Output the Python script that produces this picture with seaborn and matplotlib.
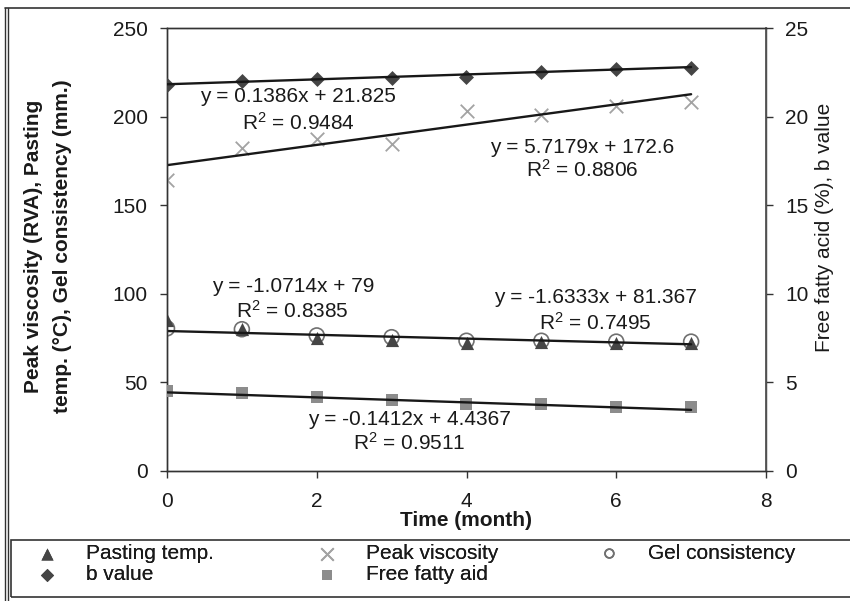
import numpy as np
import pandas as pd
import matplotlib
matplotlib.use("Agg")
import matplotlib.pyplot as plt
import seaborn as sns
from matplotlib.lines import Line2D
from matplotlib.patches import Rectangle

# ---------------- data ----------------
months = [0, 1, 2, 3, 4, 5, 6, 7]
pasting_temp = [85, 80, 75, 74, 72, 73, 72, 72]
peak_viscosity = [164.5, 182.5, 187.5, 184.5, 203, 201, 206, 208]
gel_consistency = [80.5, 80, 76.5, 75.5, 73.5, 73.5, 73, 73]
b_value = [21.8, 22.0, 22.1, 22.2, 22.25, 22.5, 22.7, 22.75]
free_fatty_acid = [4.5, 4.4, 4.2, 4.0, 3.8, 3.8, 3.6, 3.6]

# trendline coefficients: slope, intercept, R^2
trend_b = (0.1386, 21.825, 0.9484)
trend_peak = (5.7179, 172.6, 0.8806)
trend_pasting = (-1.0714, 79, 0.8385)
trend_gel = (-1.6333, 81.367, 0.7495)
trend_ffa = (-0.1412, 4.4367, 0.9511)

legend_labels = ["Pasting temp.", "Peak viscosity", "Gel consistency",
                 "b value", "Free fatty aid"]

# ---------------- style ----------------
sns.set_style("white")
plt.rcParams["font.family"] = ["Liberation Sans", "DejaVu Sans"]
plt.rcParams["mathtext.fontset"] = "custom"
plt.rcParams["mathtext.rm"] = "Liberation Sans"
plt.rcParams["mathtext.it"] = "Liberation Sans"

W, H = 850, 601
fig = plt.figure(figsize=(W / 100, H / 100), dpi=100)
L, R, B, T = 167, 766, 471, 28
ax = fig.add_axes([L / W, 1 - B / H, (R - L) / W, (B - T) / H])
ax2 = ax.twinx()

df = pd.DataFrame({
    "month": months,
    "pasting": pasting_temp,
    "peak": peak_viscosity,
    "gel": gel_consistency,
    "b": b_value,
    "ffa": free_fatty_acid,
})

FS = 15
c_dark = "#454545"
c_ffa = "#8c8c8c"
c_cross = "#a3a3a3"
c_circ = "#707070"
c_line = "#181818"

# markers
sns.scatterplot(data=df, x="month", y="gel", ax=ax, marker="o", s=115,
                facecolor="none", edgecolor=c_circ, linewidth=1.2,
                label=legend_labels[2], zorder=3)
sns.scatterplot(data=df, x="month", y="pasting", ax=ax, marker="^", s=90,
                color=c_dark, edgecolor=c_dark, linewidth=0,
                label=legend_labels[0], zorder=3)
sns.scatterplot(data=df, x="month", y="peak", ax=ax, marker="x", s=95,
                color=c_cross, linewidth=1.3,
                label=legend_labels[1], zorder=3)
sns.scatterplot(data=df, x="month", y="b", ax=ax2, marker="D", s=58,
                color=c_dark, edgecolor=c_dark, linewidth=0,
                label=legend_labels[3], zorder=3)
sns.scatterplot(data=df, x="month", y="ffa", ax=ax2, marker="s", s=70,
                color=c_ffa, edgecolor=c_ffa, linewidth=0,
                label=legend_labels[4], zorder=3)

# trendlines (from the fitted equations)
xs = np.array([months[0], months[-1]], dtype=float)
for a, (m, c, r2) in [(ax, trend_peak), (ax, trend_pasting),
                      (ax2, trend_b), (ax2, trend_ffa)]:
    sns.lineplot(x=xs, y=m * xs + c, ax=a, color=c_line, linewidth=1.7,
                 zorder=4, legend=False)

# equation annotations (x centre, y baseline in left-axis units)
ann = [
    (trend_b, 1.75, 208.5, 192.8),
    (trend_peak, 5.55, 179.6, 166.3),
    (trend_pasting, 1.68, 100.8, 86.5),
    (trend_gel, 5.72, 94.8, 79.8),
    (trend_ffa, 3.24, 26.0, 12.0),
]
for (m, c, r2), xc, y1, y2 in ann:
    ax.text(xc, y1, f"y = {m:g}x + {c:g}", ha="center", va="baseline",
            fontsize=FS, color="#1a1a1a", zorder=5)
    ax.text(xc, y2, f"R$^2$ = {r2:g}", ha="center", va="baseline",
            fontsize=FS, color="#1a1a1a", zorder=5)

# axes
ax.set_xlim(0, 8)
ax.set_ylim(0, 250)
ax2.set_ylim(0, 25)
ax.set_xticks([0, 2, 4, 6, 8])
ax.set_yticks([0, 50, 100, 150, 200, 250])
ax2.set_yticks([0, 5, 10, 15, 20, 25])
for a in (ax, ax2):
    for s in a.spines.values():
        s.set_visible(True)
        s.set_color("#333333")
        s.set_linewidth(1.0)
ax2.spines["right"].set_color("#555555")
ax2.spines["right"].set_linewidth(1.3)
ax.tick_params(axis="y", direction="out", length=5, width=1, pad=9,
               labelsize=FS, colors="#333333", labelcolor="#1a1a1a", left=True)
ax.tick_params(axis="x", direction="out", length=5, width=1, pad=10,
               labelsize=FS, colors="#333333", labelcolor="#1a1a1a", bottom=True)
ax2.tick_params(axis="y", direction="out", length=5, width=1, pad=9,
                labelsize=FS, colors="#333333", labelcolor="#1a1a1a", right=True)
ax.grid(False)
ax2.grid(False)

ax.set_xlabel("Time (month)", fontsize=FS, fontweight="bold", color="#1a1a1a")
ax.xaxis.set_label_coords(0.5, (B - 521) / (B - T))
ax.xaxis.label.set_va("center")

ax.set_ylabel("Peak viscosity (RVA), Pasting\ntemp. (°C), Gel consistency (mm.)",
              fontsize=FS, fontweight="bold", color="#1a1a1a", linespacing=1.65)
ax.yaxis.set_label_coords((48 - L) / (R - L), (B - 246) / (B - T))
ax.yaxis.label.set_va("center")
ax.yaxis.label.set_ha("center")

ax2.set_ylabel("Free fatty acid (%), b value", fontsize=FS, color="#1a1a1a")
ax2.yaxis.set_label_coords((825 - L) / (R - L), (B - 227) / (B - T))
ax2.yaxis.label.set_va("center")
ax2.yaxis.label.set_ha("center")
ax2.yaxis.label.set_rotation(90)

# legend (three columns, row-major order as in the reference)
h1, l1 = ax.get_legend_handles_labels()
h2, l2 = ax2.get_legend_handles_labels()
hmap = dict(zip(l1 + l2, h1 + h2))
for a in (ax, ax2):
    if a.get_legend() is not None:
        a.get_legend().remove()

cols = [([legend_labels[0], legend_labels[3]], 37),
        ([legend_labels[1], legend_labels[4]], 317),
        ([legend_labels[2]], 599)]
leg_sizes = {legend_labels[0]: 75, legend_labels[1]: 80, legend_labels[2]: 40,
             legend_labels[3]: 45, legend_labels[4]: 55}
for labs, x0 in cols:
    leg = fig.legend([hmap[k] for k in labs], labs, loc="upper left",
                     bbox_to_anchor=(x0 / W, 1 - 544 / H),
                     bbox_transform=fig.transFigure, frameon=False,
                     fontsize=FS, handlelength=1.0, handletextpad=1.35,
                     borderpad=0, borderaxespad=0, labelspacing=0.12,
                     scatterpoints=1)
    for hnd, k in zip(leg.legend_handles, labs):
        hnd.set_sizes([leg_sizes[k]])
    for t in leg.get_texts():
        t.set_color("#1a1a1a")
    fig.add_artist(leg)

# outer frame and legend box
def fx(px):
    return px / W

def fy(py):
    return 1 - py / H

for xx in (5, 8):
    fig.add_artist(Line2D([fx(xx), fx(xx)], [fy(8), fy(601)],
                          transform=fig.transFigure, color="#333333", lw=1.0))
fig.add_artist(Line2D([fx(5), fx(851)], [fy(8), fy(8)],
                      transform=fig.transFigure, color="#333333", lw=1.2))
fig.add_artist(Rectangle((fx(11), fy(597)), fx(845), fy(540) - fy(597),
                         transform=fig.transFigure, fill=False,
                         edgecolor="#333333", lw=1.2))

fig.savefig("out.png", dpi=100)
